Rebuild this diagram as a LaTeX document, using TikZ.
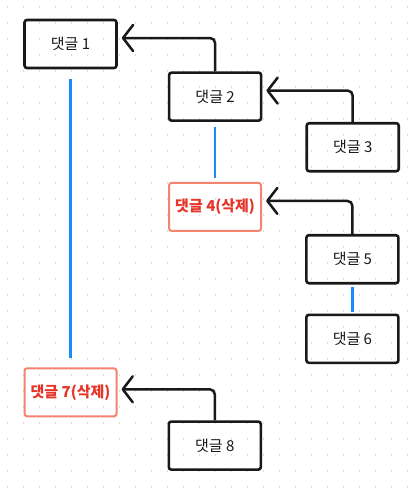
\documentclass[tikz,border=0pt]{standalone}
\usepackage{fontspec}
\setmainfont{Noto Sans CJK KR}
\usetikzlibrary{positioning, arrows.meta}

\definecolor{gridgray}{RGB}{214,214,214}
\definecolor{threadblue}{RGB}{24,140,250}
\definecolor{delred}{RGB}{230,52,40}
\definecolor{delborder}{RGB}{242,132,112}

\tikzset{
  cmt/.style={rectangle, draw=black!90, line width=2.6pt, rounded corners=2.5pt,
    minimum width=92pt, minimum height=48pt, inner sep=0pt,
    font=\fontsize{15}{17}\selectfont, text=black!90},
  cmtdel/.style={cmt, draw=delborder, line width=2pt, text=delred,
    font=\fontsize{15}{17}\selectfont\bfseries},
  reply/.style={line width=2.5pt, black!90, rounded corners=5pt, shorten >=4pt,
    -{Straight Barb[length=10pt, width=26pt, line width=2.5pt, round]}},
  thread/.style={line width=2.5pt, threadblue, shorten <=5pt, shorten >=4pt}
}

\begin{document}
\begin{tikzpicture}[x=1pt, y=1pt]
  \useasboundingbox (0,0) rectangle (419,-488);
  \fill[white] (0,0) rectangle (419,-488);
  % dot grid
  \foreach \gx in {7.5,23.5,...,419} {
    \foreach \gy in {7,23,...,488} {
      \fill[gridgray] (\gx,-\gy) circle (0.9);
    }
  }

  \node[cmt] (c1) at (70.5,-44) {댓글 1};
  \node[cmt, below right=2pt and 50pt of c1] (c2) {댓글 2};
  \node[cmt, below right=0pt and 43pt of c2] (c3) {댓글 3};
  \node[cmtdel, below=60pt of c2] (c4) {댓글 4(삭제)};
  \node[cmt, below right=2pt and 43pt of c4] (c5) {댓글 5};
  \node[cmt, below=29pt of c5] (c6) {댓글 6};
  \node[cmtdel, below=298pt of c1] (c7) {댓글 7(삭제)};
  \node[cmt, below right=3pt and 50pt of c7] (c8) {댓글 8};

  \draw[reply] (c2.north) |- ([yshift=6pt]c1.east);
  \draw[reply] (c3.north) |- ([yshift=6pt]c2.east);
  \draw[reply] (c5.north) |- ([yshift=6pt]c4.east);
  \draw[reply] (c8.north) |- ([yshift=3pt]c7.east);

  \draw[thread, shorten <=10pt, shorten >=9pt] (c1) -- (c7);
  \draw[thread] (c2) -- (c4);
  \draw[thread, shorten <=2pt, shorten >=2pt] (c5) -- (c6);
\end{tikzpicture}
\end{document}
